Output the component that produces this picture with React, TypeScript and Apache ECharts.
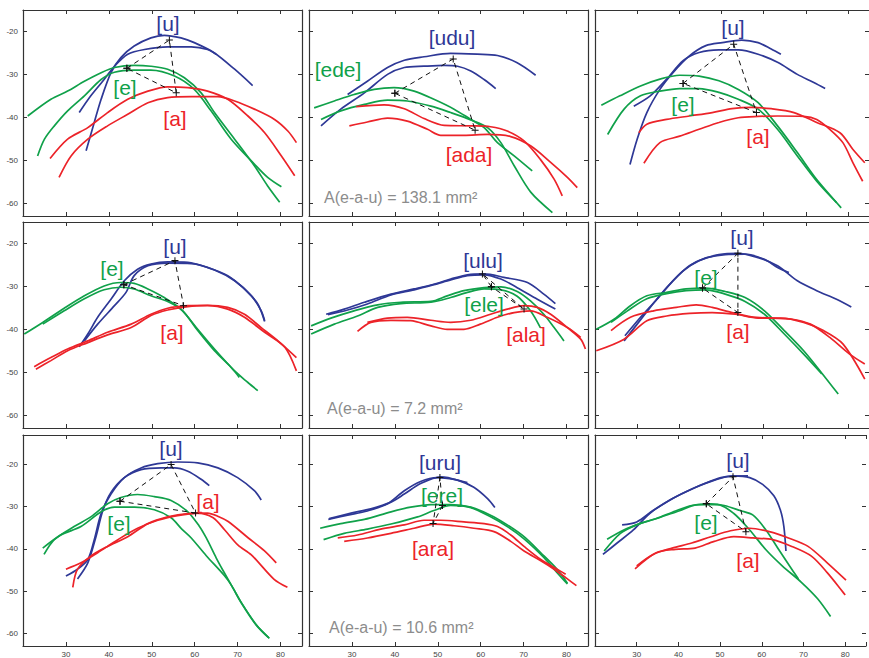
import React, { useEffect, useRef } from "react";
import * as echarts from "echarts";

const BLUE = "#2e3896";
const GREEN = "#10a14a";
const RED = "#ec2329";
const FONT = "Arial, 'Liberation Sans', Helvetica, sans-serif";

const X_TICKS = [30, 40, 50, 60, 70, 80];
const Y_TICKS = [-20, -30, -40, -50, -60];

// ---- Panel 1 (top-left) ----
const p1u1 = [[34.7,-47.8],[36.6,-41.2],[38.2,-35.8],[40.5,-29.6],[42.8,-26.1],[45.9,-23.4],[49.8,-21.5],[52.9,-20.9],[56.8,-21.5],[59.9,-22.6],[64.6,-25.0],[69.3,-28.8],[73.5,-32.6]];
const p1u2 = [[33.1,-38.9],[35.8,-35.0],[38.9,-31.2],[41.3,-28.1],[44.4,-25.3],[48.3,-24.2],[53.7,-23.6],[59.2,-23.6],[63.0,-24.2],[65.0,-25.3]];
const p1e1 = [[21.1,-39.7],[26.5,-35.8],[30.4,-33.9],[34.3,-31.6],[38.2,-29.6],[41.3,-28.4],[45.9,-27.9],[49.8,-28.1],[53.7,-28.8],[57.6,-30.8],[61.5,-34.3],[64.6,-38.9],[69.3,-45.1],[73.9,-51.3],[77.0,-56.0],[79.8,-59.8]];
const p1e2 = [[23.4,-49.0],[25.0,-45.1],[27.3,-42.0],[30.4,-38.5],[34.3,-35.0],[38.2,-31.2],[41.3,-29.5],[45.9,-29.0],[49.8,-29.0],[55.3,-30.4],[59.9,-33.5],[63.8,-38.5],[68.5,-45.1],[73.9,-50.9],[77.0,-54.0],[80.2,-56.2]];
const p1a1 = [[26.3,-49.6],[30.4,-45.1],[35.1,-42.4],[39.7,-38.9],[44.4,-35.8],[49.1,-33.9],[53.7,-32.9],[58.4,-33.1],[63.0,-33.9],[67.7,-35.8],[72.4,-39.7],[76.3,-43.6],[80.2,-49.0],[83.3,-53.6]];
const p1a2 = [[28.4,-54.0],[31.2,-49.0],[35.1,-45.1],[39.7,-42.0],[44.4,-39.3],[49.1,-36.6],[53.7,-35.4],[59.2,-35.2],[65.4,-35.2],[69.3,-36.2],[73.9,-38.1],[78.6,-40.5],[81.7,-43.2],[83.7,-45.9]];
const p1tri = [[44.2,-28.6],[54.1,-22.0],[55.7,-34.3]];

// ---- Panel 2 (top-middle) ----
const p2u1 = [[29.0,-34.7],[33.6,-31.6],[38.3,-28.4],[42.2,-26.7],[46.8,-25.9],[53.0,-25.1],[59.2,-25.3],[63.9,-25.6],[68.5,-27.3],[72.8,-30.2]];
const p2u2 = [[22.8,-42.0],[27.4,-38.1],[32.9,-34.3],[38.3,-30.0],[42.2,-28.4],[46.8,-28.1],[51.5,-27.9],[54.6,-28.1],[57.7,-29.2],[60.8,-31.2],[63.5,-33.3]];
const p2e1 = [[21.2,-37.8],[25.9,-36.2],[30.5,-34.7],[35.2,-33.5],[39.8,-33.1],[44.5,-33.9],[49.1,-35.8],[53.8,-38.1],[57.7,-40.5],[60.8,-42.4],[63.9,-45.9],[67.8,-49.0],[72.0,-52.5]];
const p2e2 = [[22.8,-40.5],[27.4,-38.5],[32.9,-37.0],[38.3,-36.0],[42.9,-36.2],[48.4,-37.4],[53.0,-38.9],[57.7,-40.6],[61.6,-42.4],[64.7,-45.9],[67.8,-51.3],[71.7,-57.5],[76.7,-62.2]];
const p2a1 = [[31.0,-37.5],[37.5,-37.1],[42.2,-38.0],[46.8,-40.3],[51.5,-41.9],[57.7,-42.0],[62.3,-42.2],[66.2,-43.2],[70.1,-45.5],[73.9,-49.8],[77.1,-54.4],[79.0,-58.3]];
const p2a2 = [[29.4,-42.0],[33.6,-41.1],[38.3,-40.2],[42.9,-40.9],[47.6,-42.8],[50.7,-44.2],[56.1,-44.2],[61.6,-44.0],[67.0,-44.5],[71.7,-46.7],[76.3,-50.5],[80.2,-54.0],[82.5,-56.4]];
const p2tri = [[40.0,-34.4],[53.6,-26.4],[58.7,-43.0]];

// ---- Panel 3 (top-right) ----
const p3u1 = [[28.3,-51.0],[30.0,-45.1],[32.3,-38.9],[35.4,-33.5],[38.5,-29.6],[42.4,-25.7],[46.3,-23.3],[50.2,-22.6],[54.8,-22.0],[58.7,-22.6],[61.8,-24.1],[64.1,-25.3]];
const p3u2 = [[29.2,-37.4],[33.1,-35.0],[37.0,-31.1],[40.9,-26.8],[44.7,-24.9],[49.4,-24.3],[54.0,-24.3],[58.7,-25.3],[63.3,-27.2],[68.0,-30.0],[71.9,-31.9],[74.6,-33.3]];
const p3e1 = [[21.5,-37.2],[25.9,-35.0],[30.8,-32.7],[35.4,-31.1],[40.1,-30.2],[44.7,-30.4],[49.4,-31.5],[54.0,-33.5],[58.7,-36.6],[63.3,-42.0],[68.0,-48.2],[72.6,-54.5],[78.4,-61.1]];
const p3e2 = [[23.0,-44.0],[26.9,-38.1],[30.8,-35.0],[35.4,-33.9],[40.1,-33.3],[44.7,-33.3],[49.4,-34.2],[54.0,-35.8],[58.7,-38.1],[63.3,-42.8],[68.0,-49.0],[72.6,-54.9],[77.3,-59.9]];
const p3a1 = [[30.4,-43.6],[32.3,-41.6],[37.0,-40.5],[42.4,-39.7],[47.8,-38.9],[52.5,-38.0],[57.1,-37.7],[61.8,-38.0],[67.2,-38.9],[72.6,-41.2],[78.1,-43.6],[81.2,-47.5],[84.0,-50.6]];
const p3a2 = [[31.6,-50.7],[35.4,-45.9],[40.1,-44.4],[44.7,-42.8],[49.4,-41.2],[54.0,-40.1],[58.7,-39.8],[63.3,-39.7],[69.5,-39.8],[72.6,-40.5],[75.7,-42.8],[78.8,-45.9],[81.2,-50.6],[83.5,-54.9]];
const p3tri = [[40.9,-32.1],[52.9,-23.0],[58.3,-38.9]];

// ---- Panel 4 (middle-left) ----
const p4u1 = [[33.1,-44.1],[35.1,-41.1],[37.4,-37.2],[40.5,-33.0],[43.6,-28.7],[46.7,-26.0],[49.8,-24.8],[53.7,-24.3],[58.4,-24.4],[63.0,-25.6],[67.7,-27.5],[71.6,-30.6],[74.7,-34.1],[76.3,-38.2]];
const p4u2 = [[34.3,-42.7],[37.4,-38.8],[41.3,-34.5],[44.0,-31.4],[45.9,-27.5],[49.1,-25.2],[53.7,-24.6],[59.2,-24.7],[64.6,-26.2],[69.3,-28.7],[73.2,-32.2],[75.5,-35.7],[76.3,-38.0]];
const p4e1 = [[20.3,-41.1],[24.6,-38.4],[29.6,-35.1],[34.3,-32.2],[38.9,-29.9],[42.8,-29.1],[45.9,-29.3],[49.1,-30.6],[52.9,-32.6],[56.8,-35.3],[60.7,-40.0],[64.6,-44.6],[69.3,-49.7],[72.4,-52.4],[74.7,-54.3]];
const p4e2 = [[24.6,-38.8],[29.6,-35.7],[34.3,-32.9],[38.9,-30.8],[42.8,-30.2],[45.9,-30.6],[49.8,-32.2],[53.7,-33.5],[57.2,-35.7],[60.7,-40.3],[64.6,-45.0],[68.5,-48.9],[70.4,-51.2]];
const p4a1 = [[22.6,-48.7],[26.5,-46.6],[30.4,-44.6],[35.1,-42.7],[39.7,-40.7],[45.2,-38.8],[49.8,-36.5],[53.7,-35.1],[58.4,-34.5],[63.0,-34.4],[67.7,-34.9],[71.6,-36.5],[75.5,-39.6],[79.4,-42.7],[83.7,-46.6]];
const p4a2 = [[23.0,-49.3],[26.5,-47.3],[30.4,-45.0],[35.1,-43.1],[39.7,-41.3],[45.2,-39.6],[49.8,-36.8],[53.7,-35.5],[58.4,-34.7],[63.0,-34.5],[67.7,-35.3],[71.6,-37.2],[76.3,-40.7],[81.0,-44.2],[83.7,-49.7]];
const p4tri = [[43.5,-29.6],[55.4,-24.0],[57.4,-34.5]];

// ---- Panel 5 (center) ----
const p5u1 = [[24.0,-36.5],[28.2,-35.3],[32.9,-33.7],[39.1,-31.8],[44.5,-30.6],[49.1,-29.5],[53.0,-28.3],[56.9,-27.3],[60.8,-27.1],[65.4,-27.9],[70.9,-29.1],[74.7,-31.8],[77.4,-34.0]];
const p5u2 = [[24.4,-36.6],[29.0,-35.5],[33.6,-34.1],[39.1,-32.0],[44.5,-30.8],[49.1,-29.6],[53.0,-28.5],[56.9,-27.5],[60.8,-27.3],[64.7,-28.3],[68.5,-30.3],[73.2,-33.0],[77.4,-35.3]];
const p5e1 = [[20.5,-39.2],[25.1,-37.4],[30.5,-35.7],[36.0,-34.3],[41.4,-33.7],[48.4,-33.5],[52.2,-32.2],[56.1,-31.0],[60.8,-30.3],[64.7,-30.1],[68.5,-31.2],[71.6,-33.4],[74.7,-36.5],[77.1,-39.6],[79.4,-42.7]];
const p5e2 = [[20.5,-41.1],[25.9,-38.8],[31.3,-36.9],[36.0,-34.9],[41.4,-34.0],[48.4,-33.7],[53.0,-32.6],[56.9,-31.4],[60.8,-30.6],[64.7,-30.8],[68.5,-32.3],[71.6,-35.7],[73.9,-39.6]];
const p5a1 = [[33.6,-38.4],[38.3,-37.4],[42.9,-37.2],[48.4,-37.9],[53.0,-38.4],[57.7,-37.9],[62.3,-36.5],[66.2,-35.3],[70.1,-34.5],[73.2,-34.9],[76.3,-36.5],[80.2,-39.6],[83.3,-42.3],[84.4,-44.6]];
const p5a2 = [[31.3,-40.5],[34.4,-38.4],[39.1,-37.9],[43.7,-38.0],[48.4,-39.2],[52.2,-40.0],[56.1,-40.0],[59.9,-38.8],[63.9,-37.2],[67.8,-36.1],[71.6,-35.7],[75.5,-37.2],[80.2,-39.6],[83.3,-41.9]];
const p5tri = [[62.5,-30.1],[60.4,-27.1],[70.1,-35.3]];

// ---- Panel 6 (middle-right) ----
const p6u1 = [[26.9,-42.7],[30.0,-38.8],[33.1,-34.9],[37.0,-30.3],[40.9,-26.4],[44.7,-24.0],[49.4,-22.6],[54.0,-22.3],[58.7,-23.3],[63.3,-25.2],[68.0,-28.7],[72.6,-31.0],[77.3,-33.0],[80.8,-34.8]];
const p6u2 = [[27.1,-41.5],[30.8,-37.2],[34.7,-33.0],[38.5,-28.7],[42.4,-25.2],[46.3,-23.4],[50.9,-22.6],[55.6,-22.5],[60.2,-23.7],[63.3,-25.6],[66.0,-26.8]];
const p6e1 = [[20.3,-40.0],[24.6,-37.6],[28.4,-34.5],[32.3,-32.2],[37.0,-31.4],[41.6,-30.6],[46.3,-30.4],[50.9,-31.2],[55.6,-32.6],[60.2,-35.7],[64.9,-40.3],[69.5,-45.0],[73.4,-49.7],[77.7,-55.1]];
const p6e2 = [[23.8,-38.4],[27.7,-35.7],[32.3,-32.9],[37.0,-31.7],[41.6,-31.0],[46.3,-30.8],[50.9,-31.8],[55.6,-33.5],[60.2,-36.5],[64.9,-41.1],[69.5,-45.8],[73.8,-50.4]];
const p6a1 = [[23.8,-40.3],[28.4,-37.2],[33.9,-35.7],[39.3,-34.9],[44.0,-34.3],[47.8,-34.9],[52.5,-36.1],[57.1,-37.1],[61.8,-37.4],[66.4,-37.6],[71.1,-38.8],[75.7,-41.9],[80.4,-45.8],[84.0,-48.1]];
const p6a2 = [[20.3,-45.0],[26.9,-42.3],[32.3,-38.0],[37.0,-36.9],[42.4,-36.3],[47.8,-36.1],[53.3,-36.5],[58.7,-37.4],[64.1,-37.4],[69.5,-38.4],[74.2,-40.3],[78.8,-43.4],[84.0,-51.6]];
const p6tri = [[45.5,-30.4],[53.9,-22.3],[53.9,-36.1]];

// ---- Panel 7 (bottom-left) ----
const p7u1 = [[30.0,-46.4],[32.7,-44.8],[35.1,-42.5],[36.6,-37.8],[38.2,-31.6],[40.5,-27.0],[43.6,-23.1],[47.5,-20.8],[51.4,-19.8],[56.0,-19.4],[60.7,-19.6],[65.4,-20.8],[70.0,-23.1],[73.9,-26.2],[75.5,-28.4]];
const p7u2 = [[32.7,-47.1],[35.1,-43.3],[37.0,-37.1],[38.6,-30.9],[40.5,-26.6],[43.6,-23.1],[47.5,-21.2],[52.2,-20.8],[55.3,-20.8],[58.4,-21.6],[61.5,-23.5],[63.4,-25.0]];
const p7e1 = [[24.9,-41.3],[27.3,-37.8],[31.9,-34.7],[35.8,-32.4],[39.7,-29.3],[42.8,-27.8],[46.7,-27.1],[50.6,-27.6],[54.5,-28.5],[58.4,-31.2],[61.0,-34.5],[62.7,-37.4],[65.0,-42.1],[66.6,-45.1],[68.5,-48.5],[70.8,-52.6],[74.3,-57.9],[77.4,-61.2]];
const p7e2 = [[24.6,-39.8],[28.8,-36.7],[33.5,-34.7],[38.2,-31.2],[41.3,-30.1],[46.0,-30.1],[50.6,-30.7],[54.5,-32.6],[57.0,-35.3],[59.2,-37.4],[62.7,-41.6],[66.9,-46.3],[68.6,-48.7],[70.8,-52.7],[74.3,-58.0],[77.3,-61.1]];
const p7a1 = [[31.6,-49.1],[32.7,-44.8],[35.8,-41.7],[39.7,-39.4],[44.4,-37.1],[49.1,-34.0],[53.7,-32.4],[58.4,-31.6],[63.0,-31.5],[65.5,-32.3],[67.8,-33.5],[72.5,-37.4],[76.2,-40.4],[79.0,-43.3]];
const p7a2 = [[30.0,-44.8],[33.5,-43.3],[37.4,-40.9],[42.1,-37.8],[46.7,-35.1],[51.4,-33.2],[56.0,-32.1],[60.7,-31.5],[64.3,-32.6],[67.0,-35.5],[70.1,-39.1],[73.2,-41.4],[78.5,-47.2],[81.6,-49.1]];
const p7tri = [[42.6,-28.7],[54.5,-20.0],[60.2,-31.5]];

// ---- Panel 8 (bottom-middle) ----
const p8u1 = [[24.5,-33.0],[29.0,-32.0],[33.6,-31.0],[38.3,-29.3],[42.2,-26.2],[46.0,-24.0],[49.9,-23.1],[53.8,-23.5],[56.9,-24.3]];
const p8u2 = [[24.7,-32.8],[29.8,-31.5],[34.4,-30.5],[39.1,-28.9],[42.2,-27.0],[46.0,-24.5],[50.7,-22.9],[54.6,-23.7],[58.4,-25.4],[61.6,-28.1],[63.3,-30.2]];
const p8e1 = [[22.6,-35.1],[27.4,-34.0],[32.9,-33.0],[39.1,-31.2],[43.7,-30.1],[48.4,-29.5],[53.0,-29.5],[57.7,-30.1],[62.3,-32.0],[66.2,-34.3],[70.1,-37.1],[74.0,-40.9],[77.8,-44.8],[80.2,-48.1]];
const p8e2 = [[23.4,-37.8],[28.2,-36.3],[33.6,-35.3],[39.1,-34.1],[45.3,-32.4],[49.1,-30.9],[53.0,-29.7],[57.7,-30.2],[62.3,-32.4],[66.2,-34.7],[70.1,-37.6],[74.7,-42.0],[77.8,-45.6],[80.2,-48.3]];
const p8a1 = [[26.7,-37.4],[31.3,-36.7],[36.7,-35.3],[42.2,-34.3],[46.8,-33.2],[50.7,-33.2],[56.1,-33.6],[60.8,-34.0],[63.9,-34.7],[67.0,-36.7],[70.1,-39.4],[74.0,-42.5],[77.8,-44.8],[79.8,-46.0]];
const p8a2 = [[28.2,-38.2],[33.6,-37.4],[39.1,-36.3],[44.5,-35.1],[49.1,-34.1],[53.8,-34.5],[58.4,-35.1],[63.1,-35.9],[67.0,-38.2],[70.1,-40.5],[74.0,-42.8],[77.1,-44.8],[80.2,-47.1],[82.3,-48.7]];
const p8tri = [[51.1,-29.7],[50.5,-23.1],[48.9,-34.0]];

// ---- Panel 9 (bottom-right) ----
const p9u1 = [[21.9,-41.3],[25.3,-38.6],[29.2,-35.5],[33.1,-31.6],[37.8,-28.5],[42.4,-26.2],[46.3,-24.5],[50.2,-23.1],[53.3,-22.7],[57.1,-23.1],[60.2,-24.7],[62.9,-27.4],[64.5,-30.9],[65.3,-34.7],[65.8,-40.5]];
const p9u2 = [[26.5,-34.3],[30.0,-33.6],[33.9,-30.9],[38.5,-28.1],[43.2,-25.8],[47.8,-24.0],[51.7,-22.9],[56.7,-22.7]];
const p9e1 = [[22.2,-40.5],[26.1,-36.3],[30.0,-34.3],[34.7,-32.8],[39.3,-31.0],[43.2,-29.7],[47.8,-29.3],[51.0,-29.7],[54.8,-30.9],[57.9,-32.0],[61.0,-35.5],[64.1,-40.2],[67.2,-44.8],[68.8,-47.1]];
const p9e2 = [[22.9,-37.7],[26.9,-35.5],[30.8,-34.0],[35.4,-32.6],[40.1,-31.0],[44.7,-29.5],[49.4,-29.5],[53.3,-31.6],[57.1,-35.5],[61.0,-40.2],[64.9,-44.0],[69.5,-47.9],[73.4,-51.8],[76.5,-56.0]];
const p9a1 = [[30.0,-44.0],[33.9,-41.3],[38.5,-39.8],[43.2,-38.6],[47.8,-37.1],[52.5,-35.7],[57.1,-35.1],[61.8,-35.9],[66.4,-37.4],[71.1,-39.4],[75.7,-43.3],[80.2,-47.4]];
const p9a2 = [[29.6,-44.7],[34.7,-40.9],[39.3,-40.1],[44.0,-39.8],[48.6,-38.2],[53.3,-37.1],[57.9,-37.4],[62.6,-37.8],[67.2,-39.4],[71.9,-41.7],[75.7,-45.6],[80.0,-50.9]];
const p9tri = [[46.7,-29.3],[53.1,-22.9],[56.2,-35.9]];

// Panel labels (vowel contexts) and area annotations
const LABELS_U = ["[u]", "[udu]", "[u]", "[u]", "[ulu]", "[u]", "[u]", "[uru]", "[u]"];
const LABELS_E = ["[e]", "[ede]", "[e]", "[e]", "[ele]", "[e]", "[e]", "[ere]", "[e]"];
const LABELS_A = ["[a]", "[ada]", "[a]", "[a]", "[ala]", "[a]", "[a]", "[ara]", "[a]"];
const AREA_TEXT = ["", "A(e-a-u) = 138.1 mm²", "", "", "A(e-a-u) = 7.2 mm²", "", "", "A(e-a-u) = 10.6 mm²", ""];

const PANELS = [
  { u: [p1u1, p1u2], e: [p1e1, p1e2], a: [p1a1, p1a2], tri: p1tri },
  { u: [p2u1, p2u2], e: [p2e1, p2e2], a: [p2a1, p2a2], tri: p2tri },
  { u: [p3u1, p3u2], e: [p3e1, p3e2], a: [p3a1, p3a2], tri: p3tri },
  { u: [p4u1, p4u2], e: [p4e1, p4e2], a: [p4a1, p4a2], tri: p4tri },
  { u: [p5u1, p5u2], e: [p5e1, p5e2], a: [p5a1, p5a2], tri: p5tri },
  { u: [p6u1, p6u2], e: [p6e1, p6e2], a: [p6a1, p6a2], tri: p6tri },
  { u: [p7u1, p7u2], e: [p7e1, p7e2], a: [p7a1, p7a2], tri: p7tri },
  { u: [p8u1, p8u2], e: [p8e1, p8e2], a: [p8a1, p8a2], tri: p8tri },
  { u: [p9u1, p9u2], e: [p9e1, p9e2], a: [p9a1, p9a2], tri: p9tri },
];

// Layout (pixels)
const COL_LEFT = [23, 309, 595];
const COL_W = 279;
const ROW_TOP = [10, 222, 435];
const ROW_H = [206, 206, 214];
const ROW_YMAX = [-15, -15, -13];
const Y_MIN = -63;
const X_MIN = 20;
const X_MAX = 85;

// label pixel positions [u, e, a]
const LABEL_POS = [
  [[168, 23], [125, 87], [175, 118]],
  [[452, 37], [338, 69], [469, 154]],
  [[733, 27], [683, 104], [758, 136]],
  [[175, 246], [112, 268], [172, 332]],
  [[483, 260], [484, 304], [526, 334]],
  [[742, 237], [706, 277], [738, 331]],
  [[171, 448], [119, 523], [208, 501]],
  [[440, 462], [442, 495], [433, 548]],
  [[738, 460], [706, 522], [748, 560]],
];
const AREA_POS = [null, [324, 197], null, null, [327, 408], null, null, [329, 627], null];

const PLUS = "path://M3,0H4V3H7V4H4V7H3V4H0V3H3Z";

function buildOption() {
  const grid: any[] = [];
  const xAxis: any[] = [];
  const yAxis: any[] = [];
  const series: any[] = [];
  const graphic: any[] = [];

  const tick = { show: true, inside: true, length: 4, lineStyle: { color: "#333", width: 1 } };
  const line = (show: boolean) => ({ show, onZero: false, lineStyle: { color: "#333", width: 1.2 } });

  PANELS.forEach((p, i) => {
    const r = Math.floor(i / 3);
    const c = i % 3;
    grid.push({
      left: COL_LEFT[c],
      top: ROW_TOP[r],
      width: COL_W,
      height: ROW_H[r],
      show: false,
      containLabel: false,
    });
    const xLabel = {
      show: r === 2,
      fontSize: 8,
      color: "#444",
      fontFamily: FONT,
      margin: 4,
      formatter: (v: number) => (X_TICKS.indexOf(v) >= 0 ? String(v) : ""),
    };
    xAxis.push({ type: "value", gridIndex: i, position: "bottom", min: X_MIN, max: X_MAX, axisLine: line(true), axisTick: tick, splitLine: { show: false }, axisLabel: xLabel });
    xAxis.push({ type: "value", gridIndex: i, position: "top", min: X_MIN, max: X_MAX, axisLine: line(true), axisTick: tick, splitLine: { show: false }, axisLabel: { show: false } });
    const yLabel = {
      show: c === 0,
      fontSize: 8,
      color: "#444",
      fontFamily: FONT,
      margin: 5,
      formatter: (v: number) => (Y_TICKS.indexOf(v) >= 0 ? String(v) : ""),
    };
    yAxis.push({ type: "value", gridIndex: i, position: "left", min: Y_MIN, max: ROW_YMAX[r], axisLine: line(true), axisTick: tick, splitLine: { show: false }, axisLabel: yLabel });
    yAxis.push({ type: "value", gridIndex: i, position: "right", min: Y_MIN, max: ROW_YMAX[r], axisLine: line(c !== 2), axisTick: tick, splitLine: { show: false }, axisLabel: { show: false } });

    const addLine = (data: number[][], color: string) => {
      series.push({
        type: "line",
        xAxisIndex: 2 * i,
        yAxisIndex: 2 * i,
        data,
        showSymbol: false,
        symbol: "none",
        smooth: 0.3,
        lineStyle: { color, width: 1.7 },
        silent: true,
      });
    };
    p.u.forEach((d) => addLine(d, BLUE));
    p.e.forEach((d) => addLine(d, GREEN));
    p.a.forEach((d) => addLine(d, RED));

    const [ep, up, ap] = p.tri;
    series.push({
      type: "line",
      xAxisIndex: 2 * i,
      yAxisIndex: 2 * i,
      data: [ep, up, ap, ep],
      symbol: PLUS,
      symbolSize: 7,
      showSymbol: true,
      itemStyle: { color: "#111" },
      lineStyle: { color: "#111", width: 1, type: [5, 4] },
      z: 5,
      silent: true,
    });

    const lp = LABEL_POS[i];
    const texts = [LABELS_U[i], LABELS_E[i], LABELS_A[i]];
    const cols = [BLUE, GREEN, RED];
    texts.forEach((t, k) => {
      graphic.push({
        type: "text",
        x: lp[k][0],
        y: lp[k][1],
        z: 100,
        silent: true,
        style: {
          text: t,
          fill: cols[k],
          fontSize: 21,
          fontFamily: FONT,
          align: "center",
          verticalAlign: "middle",
          textAlign: "center",
          textVerticalAlign: "middle",
        },
      });
    });
    const ap2 = AREA_POS[i];
    if (ap2) {
      graphic.push({
        type: "text",
        x: ap2[0],
        y: ap2[1],
        z: 100,
        silent: true,
        style: {
          text: AREA_TEXT[i],
          fill: "#8c8c8c",
          fontSize: 16,
          fontFamily: FONT,
          align: "left",
          verticalAlign: "middle",
          textAlign: "left",
          textVerticalAlign: "middle",
        },
      });
    }
  });

  return {
    animation: false,
    backgroundColor: "#ffffff",
    grid,
    xAxis,
    yAxis,
    series,
    graphic,
  };
}

export default function App() {
  const ref = useRef<HTMLDivElement>(null);
  useEffect(() => {
    if (!ref.current) return;
    const chart = echarts.init(ref.current, undefined, { renderer: "svg" });
    chart.setOption(buildOption() as any);
    return () => chart.dispose();
  }, []);
  return (
    <div
      ref={ref}
      style={{ position: "fixed", left: 0, top: 0, width: 869, height: 658, background: "#fff" }}
    />
  );
}
